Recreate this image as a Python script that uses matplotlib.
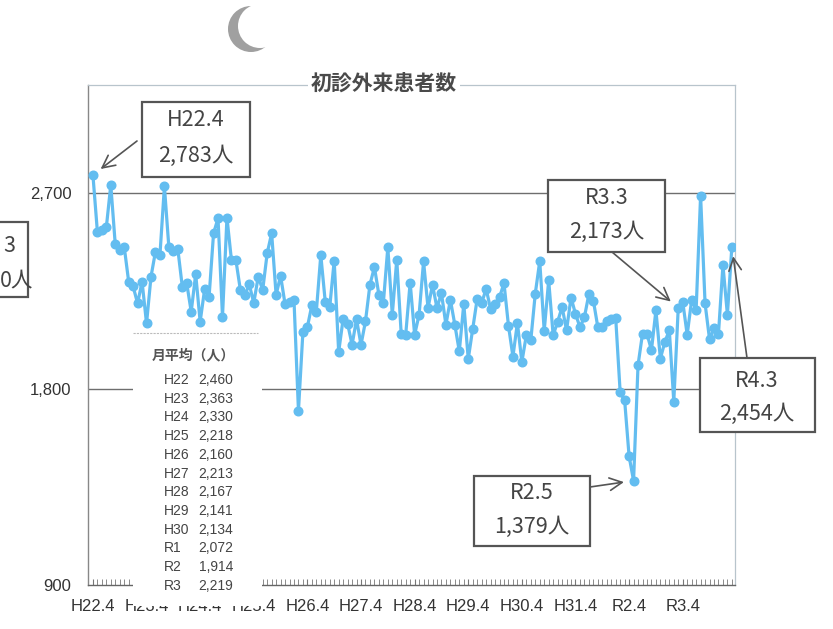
import matplotlib
matplotlib.use('Agg')
import matplotlib.pyplot as plt
import matplotlib.patches as mpatches
from matplotlib.ticker import MultipleLocator
import numpy as np

plt.rcParams['font.family'] = ['Noto Sans CJK JP', 'DejaVu Sans']

# ---------------- data ----------------
title = '初診外来患者数'
fiscal_years = ['H22', 'H23', 'H24', 'H25', 'H26', 'H27', 'H28', 'H29', 'H30', 'R1', 'R2', 'R3']
monthly_avg = ['2,460', '2,363', '2,330', '2,218', '2,160', '2,213', '2,167', '2,141', '2,134', '2,072', '1,914', '2,219']
x_tick_labels = ['H22.4', 'H23.4', 'H24.4', 'H25.4', 'H26.4', 'H27.4', 'H28.4', 'H29.4', 'H30.4', 'H31.4', 'R2.4', 'R3.4']
y_ticks = [900, 1800, 2700]
y_tick_labels = ['900', '1,800', '2,700']

h22 = [2783, 2522, 2530, 2542, 2737, 2464, 2438, 2454, 2293, 2271, 2193, 2293]
h23 = [2101, 2316, 2431, 2415, 2730, 2450, 2432, 2443, 2270, 2285, 2155, 2328]
h24 = [2109, 2258, 2224, 2515, 2584, 2132, 2587, 2392, 2392, 2255, 2232, 2280]
h25 = [2195, 2316, 2255, 2423, 2515, 2232, 2320, 2190, 2198, 2209, 1700, 2063]
h26 = [2085, 2185, 2155, 2415, 2200, 2175, 2390, 1970, 2122, 2100, 2003, 2120]
h27 = [2003, 2111, 2279, 2360, 2233, 2195, 2450, 2141, 2394, 2052, 2049, 2289]
h28 = [2049, 2141, 2386, 2172, 2279, 2172, 2241, 2095, 2210, 2095, 1973, 2191]
h29 = [1938, 2076, 2214, 2194, 2260, 2168, 2191, 2221, 2286, 2091, 1949, 2104]
h30 = [1924, 2047, 2024, 2238, 2387, 2067, 2299, 2047, 2108, 2177, 2070, 2220]
r1 = [2145, 2084, 2130, 2236, 2206, 2084, 2084, 2114, 2122, 2126, 1785, 1748]
r2 = [1491, 1379, 1910, 2054, 2054, 1978, 2161, 1940, 2016, 2070, 1742, 2173]
r3 = [2201, 2049, 2209, 2163, 2688, 2193, 2029, 2079, 2053, 2369, 2141, 2454]

callouts = [  # (month index, label, value text)
    (0, 'H22.4', '2,783人'),
    (131, 'R3.3', '2,173人'),
    (143, 'R4.3', '2,454人'),
    (121, 'R2.5', '1,379人'),
]

# ---------------- figure ----------------
values = h22 + h23 + h24 + h25 + h26 + h27 + h28 + h29 + h30 + r1 + r2 + r3
months = np.arange(len(values))

W, H = 833, 629
fig = plt.figure(figsize=(W / 100, H / 100), dpi=100)
fig.patch.set_facecolor('white')

L, R, T, B = 88, 735, 85, 585
ax = fig.add_axes([L / W, 1 - B / H, (R - L) / W, (B - T) / H])
ax.set_xlim(-1.1, 143.7)
ax.set_ylim(900, 3196)

line_color = '#63bdf0'
ax.plot(months, values, color=line_color, lw=2.3, marker='o', ms=6.2,
        mfc=line_color, mec=line_color, zorder=3)

for yv in (1800, 2700):
    ax.axhline(yv, color='#6e6e6e', lw=1.0, zorder=1)

narrow = ['Liberation Sans Narrow', 'DejaVu Sans Condensed', 'Arial Narrow',
          'Liberation Sans', 'DejaVu Sans']
ax.set_xticks(np.arange(0, 144, 12))
ax.set_xticklabels(x_tick_labels, family=narrow, fontsize=12, color='#333333')
ax.xaxis.set_minor_locator(MultipleLocator(1))
ax.set_yticks(y_ticks)
ax.set_yticklabels(y_tick_labels, family=narrow, fontsize=12, color='#333333')
ax.tick_params(axis='x', which='both', direction='in', length=4, color='#777777', pad=10)
ax.tick_params(axis='y', which='both', length=0, pad=12)

for side in ('top', 'right'):
    ax.spines[side].set_color('#b8c4cc')
    ax.spines[side].set_linestyle((0, (2, 1)))
    ax.spines[side].set_linewidth(0.9)
ax.spines['left'].set_color('#888888')
ax.spines['left'].set_linewidth(1.0)
ax.spines['bottom'].set_color('#666666')
ax.spines['bottom'].set_linewidth(1.0)

# ---------------- overlay (pixel coords) ----------------
ov = fig.add_axes([0, 0, 1, 1], zorder=5)
ov.set_xlim(0, W)
ov.set_ylim(H, 0)
ov.axis('off')

ov.text(384, 83, title, ha='center', va='center', fontsize=15, fontweight='bold',
        color='#4a4a4a', bbox=dict(fc='white', ec='none', pad=2))

# monthly average table
ov.add_patch(mpatches.Rectangle((133, 333), 129, 273, fc='white', ec='none'))
ov.plot([133, 258], [333, 333], color='#bbbbbb', lw=0.8, ls=(0, (2, 1)))
ov.text(193, 355, '月平均（人）', ha='center', va='center', fontsize=10,
        fontweight='bold', color='#555555')
for i, (fy, av) in enumerate(zip(fiscal_years, monthly_avg)):
    yy = 380 + i * 18.7
    ov.text(164, yy, fy, ha='left', va='center', fontsize=10, family=narrow, color='#444444')
    ov.text(233, yy, av, ha='right', va='center', fontsize=10, family=narrow, color='#444444')

# callout boxes
boxes = {
    0: dict(rect=(142, 102, 108, 75), text_xy=(196, 120, 156), xytext=(137, 141)),
    131: dict(rect=(548, 180, 117, 72), text_xy=(607, 198, 232), xytext=(612, 252)),
    143: dict(rect=(700, 358, 115, 74), text_xy=(757, 381, 414), xytext=(747, 358)),
    121: dict(rect=(474, 476, 116, 70), text_xy=(532, 493, 527), xytext=(590, 487)),
}
for idx, lab, val in callouts:
    b = boxes[idx]
    x0, y0, w, h = b['rect']
    ov.add_patch(mpatches.Rectangle((x0, y0), w, h, fc='white', ec='#555555', lw=1.6))
    tx, ty1, ty2 = b['text_xy']
    ov.text(tx, ty1, lab, ha='center', va='center', fontsize=15.5, color='#444444')
    ov.text(tx, ty2, val, ha='center', va='center', fontsize=15.5, color='#444444')
    ov.annotate('', xy=(idx, values[idx]), xycoords=ax.transData,
                xytext=b['xytext'], textcoords=ov.transData,
                arrowprops=dict(arrowstyle='->,head_length=0.9,head_width=0.45',
                                color='#555555', lw=1.2, shrinkA=0, shrinkB=7))

# partial box cut at the left edge
ov.add_patch(mpatches.Rectangle((-60, 222), 88, 75, fc='white', ec='#555555', lw=1.6))
ov.text(15, 246, '3', ha='right', va='center', fontsize=15.5, color='#444444')
ov.text(0, 280, '0人', ha='left', va='center', fontsize=15.5, color='#444444')

# scan artefact (crescent)
ov.add_patch(mpatches.Circle((251, 29), 23, fc='#a0a0a0', ec='none'))
ov.add_patch(mpatches.Circle((260, 26), 22, fc='white', ec='none'))

fig.savefig('out.png', dpi=100, facecolor='white')
